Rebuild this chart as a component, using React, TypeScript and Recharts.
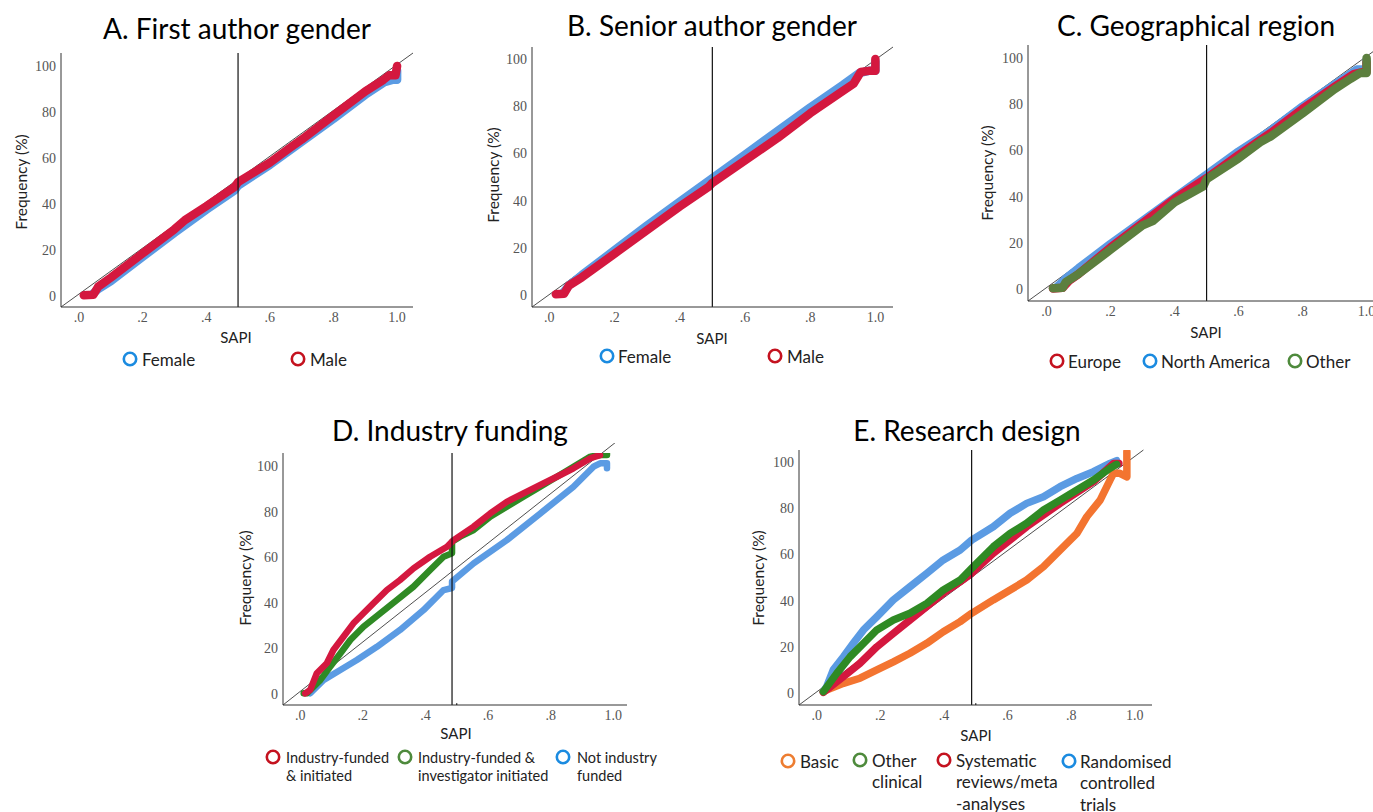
import React from 'react';
import { ComposedChart, Line, XAxis, YAxis, ReferenceLine } from 'recharts';

type Pt = [number, number];

const xTicks = [0, 0.2, 0.4, 0.6, 0.8, 1.0];
const yTicks = [0, 20, 40, 60, 80, 100];

// A. first author gender
const aFemale: Pt[] = [[0.04, 0.5], [0.06, 3], [0.1, 6.5], [0.2, 17], [0.3, 27.5], [0.4, 37.5], [0.49, 46], [0.5, 48], [0.6, 57], [0.7, 67], [0.8, 77], [0.9, 87.5], [0.96, 93], [0.985, 94], [1.0, 94], [1.0, 98]];
const aMale: Pt[] = [[0.015, 0.3], [0.045, 0.5], [0.06, 4], [0.1, 8], [0.2, 18.5], [0.3, 29], [0.333, 33], [0.4, 39], [0.49, 47.5], [0.5, 49.5], [0.6, 58], [0.664, 64.5], [0.7, 68], [0.8, 78.5], [0.9, 89], [0.957, 94], [0.975, 96], [0.995, 96], [1.0, 100]];

// B. senior author gender
const bFemale: Pt[] = [[0.04, 0.5], [0.06, 4], [0.1, 8.5], [0.2, 19], [0.3, 29.5], [0.4, 39.5], [0.5, 49.5], [0.6, 59.5], [0.7, 69.5], [0.8, 79.5], [0.9, 89], [0.95, 94], [0.98, 95], [1.0, 95], [1.0, 99]];
const bMale: Pt[] = [[0.02, 0.3], [0.045, 0.5], [0.06, 4], [0.1, 7.5], [0.2, 17.5], [0.335, 31], [0.4, 37.5], [0.49, 46], [0.5, 47.5], [0.6, 57], [0.668, 63.5], [0.7, 66.5], [0.8, 77], [0.9, 86.5], [0.933, 89.5], [0.955, 94.5], [0.98, 95], [1.0, 95], [1.0, 100]];

// C. geographical region
const cNorthAmerica: Pt[] = [[0.03, 0.5], [0.06, 4.5], [0.1, 9], [0.2, 19.5], [0.3, 29.5], [0.4, 39.5], [0.5, 49.5], [0.6, 59.5], [0.7, 68.5], [0.8, 79], [0.9, 88.5], [0.97, 95], [1.0, 95], [1.0, 99]];
const cEurope: Pt[] = [[0.02, 0.2], [0.05, 0.5], [0.07, 3.5], [0.1, 6.5], [0.2, 18], [0.3, 28.5], [0.4, 39], [0.5, 48], [0.6, 58], [0.7, 67.5], [0.8, 78], [0.9, 87.5], [0.96, 93], [0.99, 94], [1.0, 94], [1.0, 98]];
const cOther: Pt[] = [[0.02, 0.3], [0.05, 0.5], [0.06, 3], [0.1, 6.5], [0.2, 17], [0.3, 27.5], [0.333, 29.5], [0.4, 37.5], [0.49, 44.5], [0.5, 47.5], [0.6, 56.5], [0.667, 63.5], [0.7, 66], [0.8, 76], [0.9, 86.5], [0.95, 91], [0.98, 93.5], [1.0, 93.5], [1.0, 100]];

// D. industry funding
const dFundedInitiated: Pt[] = [[0.016, 0.3], [0.032, 1.8], [0.053, 9.1], [0.085, 13.5], [0.106, 19.3], [0.138, 25.1], [0.17, 31], [0.202, 35.4], [0.234, 39.8], [0.277, 45.6], [0.319, 50], [0.362, 55.1], [0.415, 60.2], [0.469, 64.6], [0.49, 67.5], [0.554, 73.4], [0.607, 79.2], [0.66, 84.3], [0.713, 88], [0.767, 91.7], [0.82, 95.3], [0.873, 99], [0.927, 103.4], [0.958, 104.8]];
const dFundedInvestigator: Pt[] = [[0.011, 0.3], [0.021, 0.3], [0.064, 6.1], [0.096, 12], [0.128, 17.8], [0.16, 23.7], [0.202, 29.5], [0.256, 35.4], [0.309, 41.2], [0.362, 47.1], [0.415, 54.4], [0.458, 60.2], [0.485, 61.7], [0.485, 66.8], [0.511, 69], [0.554, 71.9], [0.607, 77.8], [0.66, 82.1], [0.713, 86.5], [0.767, 90.9], [0.82, 95.3], [0.873, 99.7], [0.927, 104.1], [0.958, 104.8], [0.98, 104.8], [0.98, 107.7]];
const dNotFunded: Pt[] = [[0.032, 0.3], [0.074, 6.1], [0.128, 10.5], [0.181, 14.9], [0.245, 20.7], [0.319, 28.1], [0.394, 36.8], [0.458, 45.6], [0.485, 46.5], [0.485, 49.3], [0.554, 57.3], [0.66, 67.5], [0.767, 79.2], [0.873, 90.9], [0.937, 99.7], [0.958, 101.2], [0.98, 101.2], [0.98, 99]];

// E. research design
const eBasic: Pt[] = [[0.021, 0.6], [0.031, 1.3], [0.084, 4.2], [0.136, 6.4], [0.189, 10], [0.241, 13.5], [0.293, 17.2], [0.346, 21.5], [0.398, 26.5], [0.451, 30.9], [0.487, 34.5], [0.555, 40.3], [0.608, 44.6], [0.66, 48.9], [0.713, 54.7], [0.765, 61.9], [0.818, 69.1], [0.849, 76.3], [0.891, 83.5], [0.922, 92.2], [0.933, 95.1], [0.953, 95.1], [0.975, 93.6], [0.975, 104.5]];
const eOtherClinical: Pt[] = [[0.021, 0.6], [0.063, 8.5], [0.105, 15.7], [0.147, 21.5], [0.189, 27.3], [0.241, 31.6], [0.293, 34.5], [0.346, 38.8], [0.398, 44.6], [0.451, 48.9], [0.487, 54], [0.555, 63.3], [0.608, 69.1], [0.66, 73.5], [0.713, 79.2], [0.765, 83.5], [0.818, 87.9], [0.87, 92.2], [0.922, 97.3], [0.943, 99]];
const eSystematic: Pt[] = [[0.021, 0.3], [0.084, 7.1], [0.136, 12.9], [0.189, 20], [0.241, 25.8], [0.293, 31.6], [0.346, 37.4], [0.398, 43.2], [0.451, 48.2], [0.487, 51.8], [0.555, 60.5], [0.66, 72], [0.765, 82.1], [0.87, 91.5], [0.933, 99.4], [0.95, 99.4]];
const eRct: Pt[] = [[0.021, 0.6], [0.031, 2.7], [0.052, 10], [0.084, 15.7], [0.115, 21.5], [0.147, 27.3], [0.189, 33], [0.241, 40.3], [0.293, 46], [0.346, 51.8], [0.398, 57.6], [0.451, 61.9], [0.487, 66.2], [0.555, 72], [0.608, 77.8], [0.66, 82.1], [0.713, 85], [0.765, 89.3], [0.818, 92.9], [0.87, 95.8], [0.922, 99.4], [0.943, 100.6]];

const BLUE = '#5b9be3';
const RED = '#d4183f';
const GREEN = '#2f8a24';
const OLIVE = '#5c7f3e';
const ORANGE = '#f37430';

const LEG_BLUE = '#1b8be0';
const LEG_RED = '#c4121f';
const LEG_GREEN = '#4e8a3c';
const LEG_ORANGE = '#ed7d31';

const fmtX = (v: number) => (v === 1 ? '1.0' : '.' + Math.round(v * 10));

interface Series { color: string; points: Pt[] }

interface PanelProps {
  box: [number, number, number, number];
  xDomain: [number, number];
  yDomain: [number, number];
  diag: [Pt, Pt];
  cut: number;
  tick?: boolean;
  lw: number;
  series: Series[];
}

const Panel = ({ box, xDomain, yDomain, diag, cut, tick, lw, series }: PanelProps) => {
  const [x0, y0, x1, y1] = box;
  const yw = 60;
  const mt = 10;
  const xh = 30;
  const width = x1 - x0 + yw + 10;
  const height = y1 - y0 + mt + xh;
  const seg = diag.map(([x, y]) => ({ x, y }));
  return (
    <div style={{ position: 'absolute', left: x0 - yw, top: y0 - mt }}>
      <ComposedChart width={width} height={height} margin={{ top: mt, right: 10, left: 0, bottom: 0 }}>
        <XAxis
          type="number"
          dataKey="x"
          domain={xDomain}
          allowDataOverflow
          ticks={xTicks}
          tickFormatter={fmtX}
          tickLine={false}
          tickSize={3}
          tickMargin={2}
          height={xh}
          axisLine={{ stroke: '#333', strokeWidth: 1 }}
          tick={{ fill: '#555', fontSize: 14, fontFamily: 'Liberation Serif' }}
        />
        <YAxis
          type="number"
          dataKey="y"
          domain={yDomain}
          allowDataOverflow
          ticks={yTicks}
          tickLine={false}
          tickSize={3}
          tickMargin={2}
          width={yw}
          axisLine={{ stroke: '#333', strokeWidth: 1 }}
          tick={{ fill: '#555', fontSize: 14, fontFamily: 'Liberation Serif' }}
        />
        <ReferenceLine segment={seg} stroke="#222" strokeWidth={0.8} ifOverflow="visible" />
        {series.map((s, i) => (
          <Line
            key={i}
            data={s.points.map(([x, y]) => ({ x, y }))}
            dataKey="y"
            type="linear"
            stroke={s.color}
            strokeWidth={lw}
            strokeLinejoin="round"
            strokeLinecap="round"
            dot={false}
            isAnimationActive={false}
          />
        ))}
        <ReferenceLine x={cut} stroke="#111" strokeWidth={1.2} />
        {tick && (
          <ReferenceLine segment={[{ x: 0.5, y: yDomain[0] }, { x: 0.5, y: yDomain[0] + 0.8 }]} stroke="#111" strokeWidth={1.2} />
        )}
      </ComposedChart>
    </div>
  );
};

interface LegendItem { color: string; cx: number; cy: number; tx: number; lines: string[] }

const legendA: LegendItem[] = [
  { color: LEG_BLUE, cx: 130, cy: 359, tx: 142, lines: ['Female'] },
  { color: LEG_RED, cx: 298, cy: 359, tx: 310, lines: ['Male'] },
];
const legendB: LegendItem[] = [
  { color: LEG_BLUE, cx: 607, cy: 356, tx: 618, lines: ['Female'] },
  { color: LEG_RED, cx: 775, cy: 356, tx: 787, lines: ['Male'] },
];
const legendC: LegendItem[] = [
  { color: LEG_RED, cx: 1057, cy: 361, tx: 1068, lines: ['Europe'] },
  { color: LEG_BLUE, cx: 1150, cy: 361, tx: 1161, lines: ['North America'] },
  { color: LEG_GREEN, cx: 1295, cy: 361, tx: 1306, lines: ['Other'] },
];
const legendD: LegendItem[] = [
  { color: LEG_RED, cx: 273, cy: 757, tx: 286, lines: ['Industry-funded', '& initiated'] },
  { color: LEG_GREEN, cx: 405, cy: 757, tx: 418, lines: ['Industry-funded &', 'investigator initiated'] },
  { color: LEG_BLUE, cx: 563, cy: 757, tx: 577, lines: ['Not industry', 'funded'] },
];
const legendE: LegendItem[] = [
  { color: LEG_ORANGE, cx: 788, cy: 761, tx: 800, lines: ['Basic'] },
  { color: LEG_GREEN, cx: 860, cy: 760, tx: 872, lines: ['Other', 'clinical'] },
  { color: LEG_RED, cx: 944, cy: 760, tx: 956, lines: ['Systematic', 'reviews/meta', '-analyses'] },
  { color: LEG_BLUE, cx: 1069, cy: 761, tx: 1080, lines: ['Randomised', 'controlled', 'trials'] },
];

const FONT = 'Lato, "Open Sans", sans-serif';

const Legend = ({ items, size, lh }: { items: LegendItem[]; size: number; lh: number }) => (
  <g>
    {items.map((it, i) => (
      <g key={i}>
        <circle cx={it.cx} cy={it.cy} r={6.2} fill="none" stroke={it.color} strokeWidth={2.6} />
        {it.lines.map((l, j) => (
          <text key={j} x={it.tx} y={it.cy + j * lh} dominantBaseline="central" fontSize={size} fontFamily={FONT} fill="#222">
            {l}
          </text>
        ))}
      </g>
    ))}
  </g>
);

const titles = [
  { text: 'A. First author gender', x: 237, y: 28 },
  { text: 'B. Senior author gender', x: 712, y: 25 },
  { text: 'C. Geographical region', x: 1196, y: 25 },
  { text: 'D. Industry funding', x: 450, y: 430 },
  { text: 'E. Research design', x: 967, y: 430 },
];

const sapiLabels = [
  { x: 236, y: 337 },
  { x: 712, y: 338 },
  { x: 1206, y: 332 },
  { x: 456, y: 733 },
  { x: 976, y: 735 },
];

const freqLabels = [
  { x: 21, y: 182 },
  { x: 493, y: 175 },
  { x: 987, y: 173 },
  { x: 245, y: 578 },
  { x: 758, y: 578 },
];

export default function App() {
  return (
    <div style={{ position: 'absolute', left: 0, top: 0, width: 1373, height: 812, overflow: 'hidden', background: '#fff' }}>
      <Panel
        box={[61, 53, 413, 307]}
        xDomain={[-0.0566, 1.05]}
        yDomain={[-4.78, 105.65]}
        diag={[[-0.0566, -4.78], [1.05, 105.65]]}
        cut={0.5}
        lw={8.5}
        series={[{ color: BLUE, points: aFemale }, { color: RED, points: aMale }]}
      />
      <Panel
        box={[532, 47, 893, 307]}
        xDomain={[-0.053, 1.054]}
        yDomain={[-5.08, 105.1]}
        diag={[[-0.053, -5.08], [1.054, 105.1]]}
        cut={0.5}
        lw={8.5}
        series={[{ color: BLUE, points: bFemale }, { color: RED, points: bMale }]}
      />
      <Panel
        box={[1028, 45, 1373, 301]}
        xDomain={[-0.058, 1.02]}
        yDomain={[-5.19, 105.6]}
        diag={[[-0.058, -5.19], [1.02, 102.7]]}
        cut={0.5}
        lw={8.5}
        series={[{ color: BLUE, points: cNorthAmerica }, { color: RED, points: cEurope }, { color: OLIVE, points: cOther }]}
      />
      <Panel
        box={[283, 453, 627, 705]}
        xDomain={[-0.055, 1.044]}
        yDomain={[-4.82, 105.7]}
        diag={[[-0.055, -4.82], [1.017, 111.4]]}
        cut={0.485}
        tick
        lw={6.5}
        series={[{ color: BLUE, points: dNotFunded }, { color: GREEN, points: dFundedInvestigator }, { color: RED, points: dFundedInitiated }]}
      />
      <Panel
        box={[799, 450, 1152, 705]}
        xDomain={[-0.0557, 1.054]}
        yDomain={[-5.19, 105.2]}
        diag={[[-0.0557, -5.19], [1.027, 105.2]]}
        cut={0.487}
        tick
        lw={7.5}
        series={[{ color: ORANGE, points: eBasic }, { color: BLUE, points: eRct }, { color: RED, points: eSystematic }, { color: GREEN, points: eOtherClinical }]}
      />
      <svg width={1373} height={812} style={{ position: 'absolute', left: 0, top: 0, pointerEvents: 'none' }}>
        {titles.map((t, i) => (
          <text key={i} x={t.x} y={t.y} textAnchor="middle" dominantBaseline="central" fontSize={28} fontFamily={FONT} fill="#000">
            {t.text}
          </text>
        ))}
        {sapiLabels.map((p, i) => (
          <text key={i} x={p.x} y={p.y} textAnchor="middle" dominantBaseline="central" fontSize={15} fontFamily={FONT} fill="#222">
            SAPI
          </text>
        ))}
        {freqLabels.map((p, i) => (
          <text key={i} x={p.x} y={p.y} textAnchor="middle" dominantBaseline="central" fontSize={15.5} fontFamily={FONT} fill="#222" transform={`rotate(-90 ${p.x} ${p.y})`}>
            Frequency (%)
          </text>
        ))}
        <Legend items={legendA} size={17} lh={20} />
        <Legend items={legendB} size={17} lh={20} />
        <Legend items={legendC} size={17} lh={20} />
        <Legend items={legendD} size={14.5} lh={18.5} />
        <Legend items={legendE} size={17} lh={21.5} />
      </svg>
    </div>
  );
}
